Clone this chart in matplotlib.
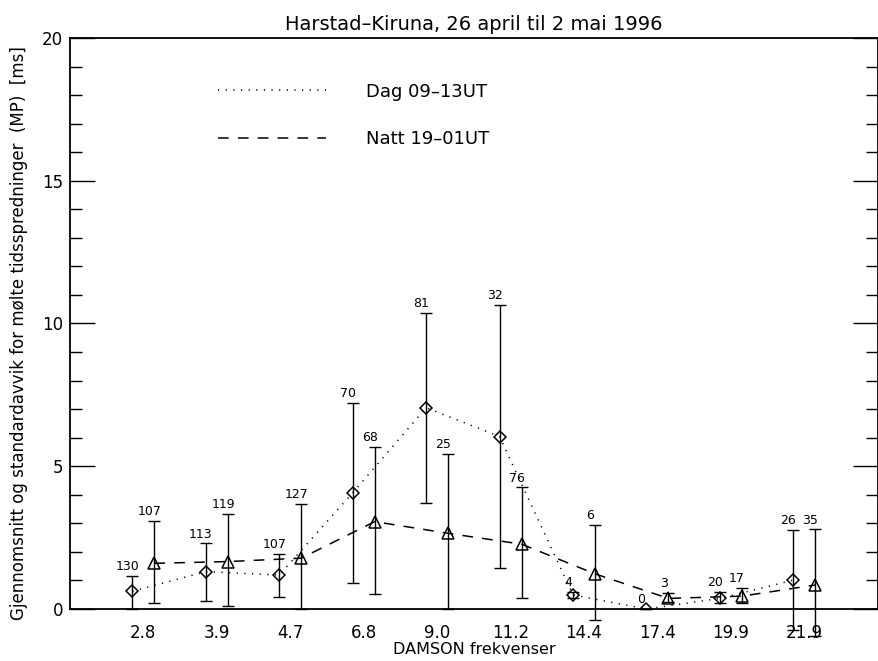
import numpy as np
import matplotlib
matplotlib.use("Agg")
import matplotlib.pyplot as plt
from matplotlib.lines import Line2D
from matplotlib.ticker import MultipleLocator

# DAMSON frequencies (MHz), one category each
freqs = ["2.8", "3.9", "4.7", "6.8", "9.0", "11.2", "14.4", "17.4", "19.9", "21.9"]

# Dag 09-13UT: mean spread, ends of the std bar, number of measurements
dag_mean = [0.62, 1.31, 1.19, 4.07, 7.05, 6.04, 0.49, 0.0, 0.37, 1.01]
dag_low = [0.0, 0.28, 0.43, 0.90, 3.72, 1.45, 0.38, 0.0, 0.20, -0.75]
dag_high = [1.16, 2.30, 1.93, 7.23, 10.36, 10.65, 0.60, 0.0, 0.60, 2.77]
dag_n = ["130", "113", "107", "70", "81", "32", "4", "0", "20", "26"]

# Natt 19-01UT
natt_mean = [1.60, 1.66, 1.78, 3.06, 2.65, 2.27, 1.23, 0.37, 0.45, 0.84]
natt_low = [0.22, 0.10, 0.0, 0.51, 0.0, 0.37, -0.39, 0.25, 0.20, -0.95]
natt_high = [3.09, 3.33, 3.67, 5.69, 5.42, 4.26, 2.94, 0.55, 0.75, 2.79]
natt_n = ["107", "119", "127", "68", "25", "76", "6", "3", "17", "35"]

plt.rcParams["font.family"] = ["DejaVu Sans"]

DOTTED = (0, (0.8, 4.2))
DASHED = (0, (7, 6))

fig = plt.figure(figsize=(8.79, 6.61), dpi=100)
ax = fig.add_axes([0.0796, 0.0787, 0.919, 0.8638])

x = np.arange(len(freqs))
series = [
    (x - 0.15, dag_mean, dag_low, dag_high, dag_n, DOTTED, "D", 6.5),
    (x + 0.15, natt_mean, natt_low, natt_high, natt_n, DASHED, "^", 9),
]

for xs, mean, low, high, counts, ls, mk, ms in series:
    mean = np.array(mean)
    yerr = [mean - np.array(low), np.array(high) - mean]
    eb = ax.errorbar(xs, mean, yerr=yerr, fmt="none", ecolor="black",
                     elinewidth=1.0, capsize=4, capthick=1.0)
    for art in list(eb.lines[1]) + list(eb.lines[2]):
        art.set_clip_on(False)
    ax.plot(xs, mean, linestyle=ls, color="black", lw=1.1, marker=mk,
            ms=ms, mfc="none", mec="black", mew=1.1)
    for xi, hi, n in zip(xs, high, counts):
        ax.annotate(n, (xi, hi), xytext=(-3.5, 2), textcoords="offset points",
                    ha="center", va="bottom", fontsize=9)

handles = [Line2D([], [], color="black", lw=1.1, linestyle=DOTTED),
           Line2D([], [], color="black", lw=1.1, linestyle=DASHED)]
ax.legend(handles, ["Dag 09\u201313UT", "Natt 19\u201301UT"], loc="upper left",
          bbox_to_anchor=(0.183, 0.922), frameon=False, fontsize=13,
          handlelength=6.0, handletextpad=2.2, labelspacing=1.65,
          borderpad=0, borderaxespad=0)

ax.set_xlim(-1, 10)
ax.set_ylim(0, 20)
ax.set_xticks(x, freqs)
ax.set_yticks([0, 5, 10, 15, 20])
ax.yaxis.set_minor_locator(MultipleLocator(1))
ax.tick_params(axis="x", length=0, pad=11, labelsize=12)
ax.tick_params(axis="y", which="major", direction="in", length=18, width=1,
               right=True, labelsize=12, pad=5)
ax.tick_params(axis="y", which="minor", direction="in", length=8.5, width=1,
               right=True)
for sp in ax.spines.values():
    sp.set_linewidth(1.3)

ax.set_title("Harstad\u2013Kiruna, 26 april til 2 mai 1996", fontsize=14, pad=6)
ax.set_xlabel("DAMSON frekvenser", fontsize=11.5, labelpad=0)
ax.set_ylabel("Gjennomsnitt og standardavvik for m\u00f8lte tidsspredninger  (MP)  [ms]",
              fontsize=12)
ax.yaxis.set_label_coords(-0.052, 0.483)

fig.savefig("out.png", dpi=100)
